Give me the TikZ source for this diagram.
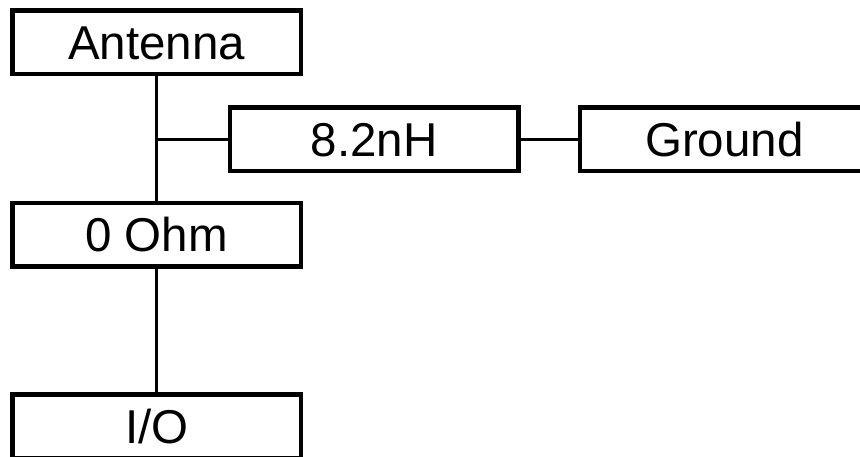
\documentclass[tikz,border=0pt]{standalone}
\usepackage{fontspec}
\setmainfont{Liberation Sans}
\begin{document}
\begin{tikzpicture}[x=1pt,y=-1pt,
  blk/.style={draw=black, line width=4.5pt, rectangle, minimum width=288.5pt,
    minimum height=63.5pt, inner sep=0pt, text height=34pt, text depth=0pt,
    font=\fontsize{47.5}{57}\selectfont},
  wire/.style={draw=black, line width=3pt}]
\useasboundingbox (0,0) rectangle (860,457);
\fill[white] (0,0) rectangle (860,457);
\node[blk] (ant) at (156.7,42.2) {Antenna};
\node[blk] (ind) at (374,139.5) {8.2nH};
\node[blk] (gnd) at (724.3,139.5) {Ground};
\node[blk] (ohm) at (156.7,235) {0 Ohm};
\node[blk] (io) at (156.7,426) {I/O};
\draw[wire] (ant.south) -- (ohm.north);
\draw[wire] (ohm.south) -- (io.north);
\draw[wire] (ant.south |- ind.west) -- (ind.west);
\draw[wire] (ind.east) -- (gnd.west);
\end{tikzpicture}
\end{document}
